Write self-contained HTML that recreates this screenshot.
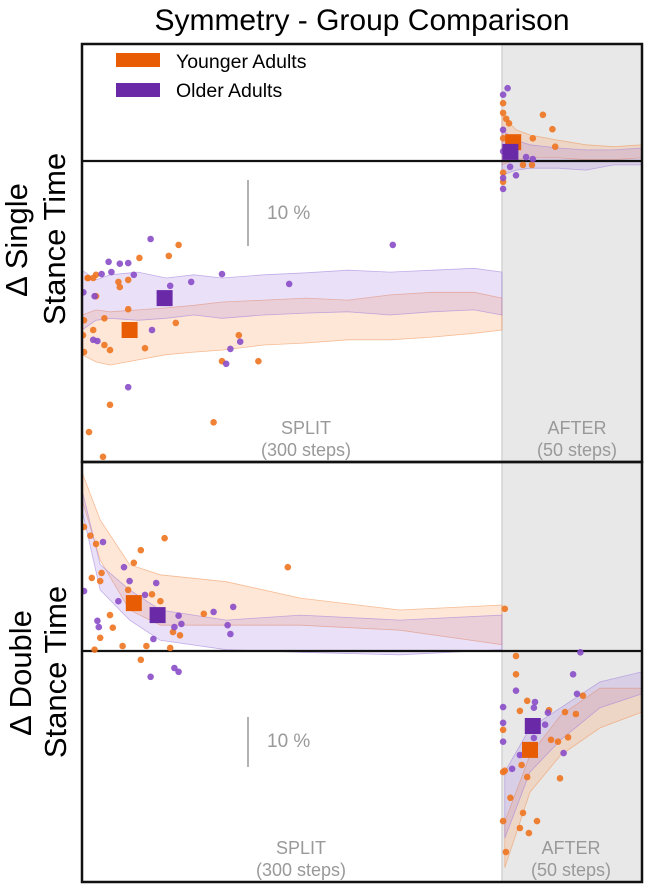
<!DOCTYPE html>
<html><head><meta charset="utf-8"><style>
html,body{margin:0;padding:0;background:#fff;}
svg{display:block;font-family:"Liberation Sans",sans-serif;}
</style></head><body>
<svg id="chart" width="646" height="885" viewBox="0 0 646 885">
<text x="362" y="30" text-anchor="middle" font-size="30">Symmetry - Group Comparison</text>
<g>
<text transform="translate(27,240) rotate(-90)" text-anchor="middle" font-size="31">Δ Single</text>
<text transform="translate(65,239) rotate(-90)" text-anchor="middle" font-size="31">Stance Time</text>
</g>
<g>
<text transform="translate(31,673) rotate(-90)" text-anchor="middle" font-size="31">Δ Double</text>
<text transform="translate(66,672) rotate(-90)" text-anchor="middle" font-size="31">Stance Time</text>
</g>
<defs>
<clipPath id="clipTop"><rect x="82" y="44" width="560" height="418"/></clipPath>
<clipPath id="clipBot"><rect x="82" y="462" width="560" height="420"/></clipPath>
</defs>
<rect x="502" y="44" width="140" height="838" fill="#e8e8e8"/>
<line x1="502" y1="44" x2="502" y2="882" stroke="#d4d4d4" stroke-width="1.5"/>
<g id="topG" clip-path="url(#clipTop)"></g>
<g id="botG" clip-path="url(#clipBot)"></g>
<rect x="82" y="44" width="560" height="418" fill="none" stroke="#111" stroke-width="2.5"/>
<rect x="82" y="462" width="560" height="420" fill="none" stroke="#111" stroke-width="2.5"/>
<g>
<rect x="116" y="53" width="44" height="14" fill="#e85d04"/>
<text x="176" y="68" font-size="19.5">Younger Adults</text>
<rect x="116" y="83" width="44" height="14" fill="#6a2aa8"/>
<text x="176" y="97" font-size="19.5">Older Adults</text>
</g>
<g fill="#999" font-size="18">
<line x1="248" y1="180" x2="248" y2="246" stroke="#999" stroke-width="1.5"/>
<text x="267" y="219" font-size="19">10 %</text>
<line x1="248" y1="717" x2="248" y2="767" stroke="#999" stroke-width="1.5"/>
<text x="267" y="747" font-size="19">10 %</text>
<text x="306" y="434" text-anchor="middle">SPLIT</text>
<text x="306" y="456" text-anchor="middle">(300 steps)</text>
<text x="577" y="434" text-anchor="middle">AFTER</text>
<text x="577" y="456" text-anchor="middle">(50 steps)</text>
<text x="301" y="854" text-anchor="middle">SPLIT</text>
<text x="301" y="876" text-anchor="middle">(300 steps)</text>
<text x="571" y="854" text-anchor="middle">AFTER</text>
<text x="571" y="876" text-anchor="middle">(50 steps)</text>
</g>
</svg>
<script>
// ---- data (percent change) ----
const splitStepsTop = [0,10,20,40,60,80,100,130,160,190,220,250,280,300];
const topSplitYAUpper = [-23.7,-22.9,-23.2,-22.9,-22.6,-22.2,-21.7,-21.4,-21.1,-21.4,-20.6,-20.2,-20.2,-21.1];
const topSplitYALower = [-29.8,-30.9,-31.4,-30.6,-29.8,-29.4,-29.1,-28.3,-28.0,-27.5,-27.5,-27.1,-26.5,-26.0];
const topSplitOAUpper = [-16.8,-18.3,-17.5,-17.1,-18.0,-17.5,-18.0,-17.5,-17.2,-16.8,-17.1,-16.8,-16.5,-17.1];
const topSplitOALower = [-26.0,-24.5,-24.2,-24.5,-24.2,-23.7,-24.2,-23.7,-23.4,-23.2,-23.7,-23.2,-22.9,-23.7];
const afterStepsTop = [0,5,10,20,30,40,50];
const topAfterYAUpper = [7.1,4.8,4.0,3.2,2.5,2.2,2.5];
const topAfterYALower = [-0.6,0.2,0.5,0.5,0.2,0.2,0.5];
const topAfterOAUpper = [4.8,3.2,2.5,2.0,1.7,1.7,2.0];
const topAfterOALower = [-2.2,-1.4,-1.1,-1.1,-1.4,-0.6,-0.6];
const splitStepsBot = [0,13,34,56,103,156,227,300];
const botSplitYAUpper = [28.4,20.8,13.7,12.1,11.0,8.4,6.5,7.3];
const botSplitYALower = [24.0,14.4,6.5,4.1,4.1,4.1,3.3,1.0];
const botSplitOAUpper = [25.6,13.7,9.7,6.5,4.9,5.7,4.9,5.7];
const botSplitOALower = [22.4,9.7,4.9,1.7,0.2,-0.2,-0.6,0.2];
const afterStepsBot = [1,10,21,35,50];
const botAfterYAUpper = [-27.1,-16.5,-10.2,-5.9,-5.9];
const botAfterYALower = [-34.4,-22.4,-16.5,-12.2,-9.7];
const botAfterOAUpper = [-19.2,-12.2,-9.0,-4.9,-3.3];
const botAfterOALower = [-29.7,-19.2,-14.1,-9.0,-6.8];
// means: [step, value]
const topSplitMeans = {ya:[34,-26.0], oa:[59,-21.1]};
const topAfterMeans = {ya:[4,2.9], oa:[3,1.4]};
const botSplitMeans = {ya:[37,7.6], oa:[54,5.7]};
const botAfterMeans = {ya:[10,-15.7], oa:[11,-11.9]};
// individual subjects: [step, value]
const topSplitYADots = [[4.3,-18],[10,-17.5],[10,-20.8],[1.4,-24.5],[0.7,-26.8],[8,-26],[16,-24.2],[26,-18.6],[33,-18.3],[20,-29.1],[1.4,-29.4],[20,-37.5],[5,-41.7],[15,-45.5],[94,-40.2],[67,-24.9],[69,-12.9],[62,-14.6],[41,-14.9],[27,-19.4],[112,-26.8],[100,-30.8],[126,-30.8],[45,-28.8],[16,-28.3],[33,-22.8],[4,-18],[8,-18]];
const topSplitOADots = [[49,-12],[19,-15.5],[27,-15.8],[33,-15.7],[14,-17.4],[21,-17.1],[37,-17.5],[9,-20.8],[1,-20.2],[50,-26],[8,-27.5],[11,-27.7],[78,-18.6],[63,-19.2],[100,-17.4],[148,-18.9],[222,-12.9],[106,-28.9],[113,-27.8],[103,-31.2],[33,-34.8]];
const topAfterYADots = [[0.4,8.9],[0.4,7.4],[2.5,5.8],[14.6,7.1],[18,4.9],[11,3.5],[19,2.2],[7.5,-0.6],[10.7,-0.6],[0.4,-1.8],[0.4,-3.2],[0.4,3.5],[1.5,6.5]];
const topAfterOADots = [[2,11.2],[0.4,10.2],[0.4,4.8],[8.6,0.6],[11,0.3],[2.9,-0.9],[5,-2.2],[0.4,-4.3],[0.4,-2.6],[0.4,1.5]];
const botSplitYADots = [[1.4,19.7],[6,18.3],[10,17],[42,16],[59,17.9],[37,14],[147,13.3],[14,12.4],[7,11.6],[13,11.1],[33,9.7],[50,9],[56,7.9],[87,5.9],[20,5.7],[22,3.7],[13,2.1],[65,3],[70,2.5],[29,0.8],[46,0.8],[63,0.5],[9,0.2],[42,-1.4]];
const botSplitOADots = [[15,17.3],[30,13.3],[34,11.1],[53,10.8],[26,7.9],[45,8.9],[11,4.8],[12,3.8],[69,5.6],[71,4.3],[66,3.8],[94,6.2],[108,7],[104,4.1],[106,2.7],[51,1.9],[49,-4.1],[66,-2.7],[69,-3.3],[1.4,9.5]];
const botAfterYADots = [[1,6.7],[5,-0.8],[5,-3.7],[9,-7.9],[6.4,-9.5],[0.4,-12.5],[0.4,-19.2],[1,-19],[7,-18.1],[9,-20],[3,-23.3],[7.5,-25.7],[12.5,-27],[6.4,-28.1],[9.6,-28.9],[0.4,-27],[1.4,-31.9],[17.5,-14.1],[20,-14.4],[23.6,-13.7],[20.7,-20.2],[22.5,-9.7],[26.4,-10],[28.9,-7.1],[16.8,-9.4]];
const botAfterOADots = [[28,-0.2],[25.4,-3.7],[26.8,-6.8],[5,-6.3],[0.4,-8.9],[11.8,-8.1],[11.4,-9],[16.4,-9.8],[0.4,-11.4],[15.4,-11.7],[11.4,-13.8],[6.4,-16.5],[3.6,-18.7],[22,-16.2],[0.4,-14.4]];

// ---- scales ----
const NS='http://www.w3.org/2000/svg';
const xSplit = s => 82 + s*(420/300);
const xAfter = s => 502 + s*(140/50);
const yTop = v => 161 - v*6.5;
const yBot = v => 651 - v*6.3;
const C = {ya:'#e85d04', oa:'#6a2aa8', yaDot:'#ee7420', oaDot:'#8a4cc8',
  yaFill:'rgba(255,170,110,0.28)', oaFill:'rgba(160,120,225,0.22)',
  yaEdge:'rgba(240,150,90,0.6)', oaEdge:'rgba(160,130,220,0.6)'};

function band(g, xs, up, lo, xf, yf, fill, edge, name){
  const pts=[];
  xs.forEach((s,i)=>pts.push(xf(s).toFixed(1)+','+yf(up[i]).toFixed(1)));
  for(let i=xs.length-1;i>=0;i--) pts.push(xf(xs[i]).toFixed(1)+','+yf(lo[i]).toFixed(1));
  const p=document.createElementNS(NS,'polygon');
  p.setAttribute('points',pts.join(' '));
  p.setAttribute('fill',fill);p.setAttribute('stroke',edge);p.setAttribute('stroke-width','0.8');
  
  
  g.appendChild(p);
}
function dots(g, arr, xf, yf, col, name){
  arr.forEach(d=>{
    const c=document.createElementNS(NS,'circle');
    c.setAttribute('cx',xf(d[0]).toFixed(1));c.setAttribute('cy',yf(d[1]).toFixed(1));
    c.setAttribute('r','3.3');c.setAttribute('fill',col);c.setAttribute('opacity','0.9');
    
    
    g.appendChild(c);
  });
}
function mean(g, m, xf, yf, col, name){
  const r=document.createElementNS(NS,'rect');
  r.setAttribute('x',(xf(m[0])-8).toFixed(1));r.setAttribute('y',(yf(m[1])-8).toFixed(1));
  r.setAttribute('width','16');r.setAttribute('height','16');r.setAttribute('fill',col);
  
  
  g.appendChild(r);
}
function zero(g,y){
  const l=document.createElementNS(NS,'line');
  l.setAttribute('x1','82');l.setAttribute('x2','642');l.setAttribute('y1',y);l.setAttribute('y2',y);
  l.setAttribute('stroke','#111');l.setAttribute('stroke-width','2.2');
  
  
  g.appendChild(l);
}
const tg=document.getElementById('topG'), bg=document.getElementById('botG');
band(tg,splitStepsTop,topSplitYAUpper,topSplitYALower,xSplit,yTop,C.yaFill,C.yaEdge,'band-younger-split');
band(tg,splitStepsTop,topSplitOAUpper,topSplitOALower,xSplit,yTop,C.oaFill,C.oaEdge,'band-older-split');
band(tg,afterStepsTop,topAfterYAUpper,topAfterYALower,xAfter,yTop,C.yaFill,C.yaEdge,'band-younger-after');
band(tg,afterStepsTop,topAfterOAUpper,topAfterOALower,xAfter,yTop,C.oaFill,C.oaEdge,'band-older-after');
zero(tg,yTop(0));
dots(tg,topSplitYADots,xSplit,yTop,C.yaDot,'dot-younger');
dots(tg,topSplitOADots,xSplit,yTop,C.oaDot,'dot-older');
dots(tg,topAfterYADots,xAfter,yTop,C.yaDot,'dot-younger');
dots(tg,topAfterOADots,xAfter,yTop,C.oaDot,'dot-older');
mean(tg,topSplitMeans.ya,xSplit,yTop,C.ya,'mean-younger-split');
mean(tg,topSplitMeans.oa,xSplit,yTop,C.oa,'mean-older-split');
mean(tg,topAfterMeans.ya,xAfter,yTop,C.ya,'mean-younger-after');
mean(tg,topAfterMeans.oa,xAfter,yTop,C.oa,'mean-older-after');
band(bg,splitStepsBot,botSplitYAUpper,botSplitYALower,xSplit,yBot,C.yaFill,C.yaEdge,'band-younger-split');
band(bg,splitStepsBot,botSplitOAUpper,botSplitOALower,xSplit,yBot,C.oaFill,C.oaEdge,'band-older-split');
band(bg,afterStepsBot,botAfterYAUpper,botAfterYALower,xAfter,yBot,C.yaFill,C.yaEdge,'band-younger-after');
band(bg,afterStepsBot,botAfterOAUpper,botAfterOALower,xAfter,yBot,C.oaFill,C.oaEdge,'band-older-after');
zero(bg,yBot(0));
dots(bg,botSplitYADots,xSplit,yBot,C.yaDot,'dot-younger');
dots(bg,botSplitOADots,xSplit,yBot,C.oaDot,'dot-older');
dots(bg,botAfterYADots,xAfter,yBot,C.yaDot,'dot-younger');
dots(bg,botAfterOADots,xAfter,yBot,C.oaDot,'dot-older');
mean(bg,botSplitMeans.ya,xSplit,yBot,C.ya,'mean-younger-split');
mean(bg,botSplitMeans.oa,xSplit,yBot,C.oa,'mean-older-split');
mean(bg,botAfterMeans.ya,xAfter,yBot,C.ya,'mean-younger-after');
mean(bg,botAfterMeans.oa,xAfter,yBot,C.oa,'mean-older-after');
</script>
</body></html>
